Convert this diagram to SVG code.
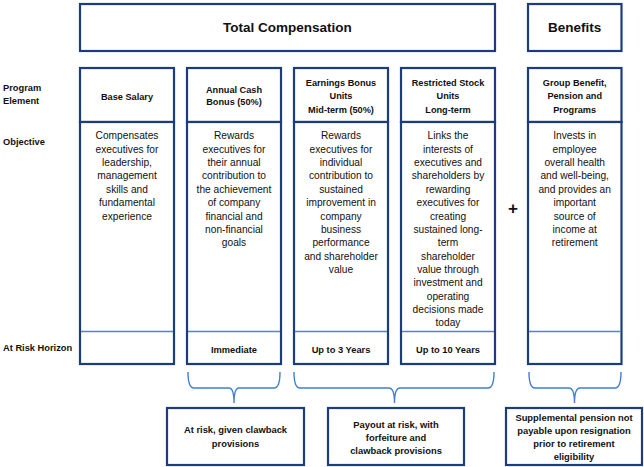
<svg xmlns="http://www.w3.org/2000/svg" width="644" height="467" viewBox="0 0 644 467">
<style>
.box{fill:#fff;stroke:#1d3c7d;stroke-width:2.2}
.div{stroke:#4a86d8;stroke-width:1.4;fill:none}
.brace{stroke:#3f7fd6;stroke-width:1.4;fill:none}
text{font-family:"Liberation Sans",Arial,sans-serif;fill:#111;text-anchor:middle}
.title{font-size:13.5px;font-weight:bold}
.hd{font-size:9.2px;font-weight:bold}
.body{font-size:10.2px}
.lbl{font-size:9.3px;font-weight:bold;text-anchor:start}
.hz{font-size:9.3px;font-weight:bold}
.bx{font-size:9.4px;font-weight:bold}
.plus{font-size:17px;font-weight:bold}
</style>
<g id="total-compensation">
<rect class="box" x="80" y="4" width="415" height="47"/>
<text class="title" x="287.5" y="31.5">Total Compensation</text>
</g>
<g id="benefits">
<rect class="box" x="528" y="4" width="93.5" height="47"/>
<text class="title" x="574.7" y="31.5">Benefits</text>
</g>
<g id="row-labels">
<text class="lbl" x="3" y="91">Program</text>
<text class="lbl" x="3" y="103.5">Element</text>
<text class="lbl" x="3" y="145.3">Objective</text>
<text class="lbl" x="3" y="351.3">At Risk Horizon</text>
</g>
<g id="base-salary">
<rect class="box" x="80" y="68" width="94" height="54"/>
<rect class="box" x="80" y="122" width="94" height="242"/>
<line class="div" x1="81" y1="331.5" x2="173" y2="331.5"/>
<text class="hd" x="127" y="100">Base Salary</text>
<text class="body" x="127" y="139.3">Compensates</text>
<text class="body" x="127" y="152.7">executives for</text>
<text class="body" x="127" y="166">leadership,</text>
<text class="body" x="127" y="179.4">management</text>
<text class="body" x="127" y="192.7">skills and</text>
<text class="body" x="127" y="206.1">fundamental</text>
<text class="body" x="127" y="219.5">experience</text>
</g>
<g id="annual-cash-bonus">
<rect class="box" x="187" y="68" width="94" height="54"/>
<rect class="box" x="187" y="122" width="94" height="242"/>
<line class="div" x1="188" y1="331.5" x2="280" y2="331.5"/>
<text class="hd" x="234" y="92.6">Annual Cash</text>
<text class="hd" x="234" y="105">Bonus (50%)</text>
<text class="body" x="234" y="139.3">Rewards</text>
<text class="body" x="234" y="152.7">executives for</text>
<text class="body" x="234" y="166">their annual</text>
<text class="body" x="234" y="179.4">contribution to</text>
<text class="body" x="234" y="192.7">the achievement</text>
<text class="body" x="234" y="206.1">of company</text>
<text class="body" x="234" y="219.5">financial and</text>
<text class="body" x="234" y="232.8">non-financial</text>
<text class="body" x="234" y="246.2">goals</text>
<text class="hz" x="234" y="352.6">Immediate</text>
</g>
<g id="earnings-bonus-units">
<rect class="box" x="294" y="68" width="94" height="54"/>
<rect class="box" x="294" y="122" width="94" height="242"/>
<line class="div" x1="295" y1="331.5" x2="387" y2="331.5"/>
<text class="hd" x="341" y="86">Earnings Bonus</text>
<text class="hd" x="341" y="99.3">Units</text>
<text class="hd" x="341" y="113">Mid-term (50%)</text>
<text class="body" x="341" y="139.3">Rewards</text>
<text class="body" x="341" y="152.7">executives for</text>
<text class="body" x="341" y="166">individual</text>
<text class="body" x="341" y="179.4">contribution to</text>
<text class="body" x="341" y="192.7">sustained</text>
<text class="body" x="341" y="206.1">improvement in</text>
<text class="body" x="341" y="219.5">company</text>
<text class="body" x="341" y="232.8">business</text>
<text class="body" x="341" y="246.2">performance</text>
<text class="body" x="341" y="259.5">and shareholder</text>
<text class="body" x="341" y="272.9">value</text>
<text class="hz" x="341" y="352.6">Up to 3 Years</text>
</g>
<g id="restricted-stock-units">
<rect class="box" x="401" y="68" width="94" height="54"/>
<rect class="box" x="401" y="122" width="94" height="242"/>
<line class="div" x1="402" y1="331.5" x2="494" y2="331.5"/>
<text class="hd" x="448" y="86">Restricted Stock</text>
<text class="hd" x="448" y="99.3">Units</text>
<text class="hd" x="448" y="113">Long-term</text>
<text class="body" x="448" y="139.3">Links the</text>
<text class="body" x="448" y="152.7">interests of</text>
<text class="body" x="448" y="166">executives and</text>
<text class="body" x="448" y="179.4">shareholders by</text>
<text class="body" x="448" y="192.7">rewarding</text>
<text class="body" x="448" y="206.1">executives for</text>
<text class="body" x="448" y="219.5">creating</text>
<text class="body" x="448" y="232.8">sustained long-</text>
<text class="body" x="448" y="246.2">term</text>
<text class="body" x="448" y="259.5">shareholder</text>
<text class="body" x="448" y="272.9">value through</text>
<text class="body" x="448" y="286.3">investment and</text>
<text class="body" x="448" y="299.6">operating</text>
<text class="body" x="448" y="313">decisions made</text>
<text class="body" x="448" y="326.3">today</text>
<text class="hz" x="448" y="352.6">Up to 10 Years</text>
</g>
<g id="plus">
<text class="plus" x="513" y="214">+</text>
</g>
<g id="group-benefit">
<rect class="box" x="528" y="68" width="93.5" height="54"/>
<rect class="box" x="528" y="122" width="93.5" height="242"/>
<line class="div" x1="529" y1="331.5" x2="620.5" y2="331.5"/>
<text class="hd" x="574.7" y="86">Group Benefit,</text>
<text class="hd" x="574.7" y="99.3">Pension and</text>
<text class="hd" x="574.7" y="113">Programs</text>
<text class="body" x="574.7" y="139.3">Invests in</text>
<text class="body" x="574.7" y="152.7">employee</text>
<text class="body" x="574.7" y="166">overall health</text>
<text class="body" x="574.7" y="179.4">and well-being,</text>
<text class="body" x="574.7" y="192.7">and provides an</text>
<text class="body" x="574.7" y="206.1">important</text>
<text class="body" x="574.7" y="219.5">source of</text>
<text class="body" x="574.7" y="232.8">income at</text>
<text class="body" x="574.7" y="246.2">retirement</text>
</g>
<g id="connectors">
<path class="brace" d="M188,372 Q188,388 194,388 L229,388 Q234,388 234,403 Q234,388 239,388 L274,388 Q280,388 280,372"/>
<path class="brace" d="M294,372 Q294,388 300,388 L389,388 Q394.5,388 394.5,403 Q394.5,388 400,388 L488,388 Q494,388 494,372"/>
<path class="brace" d="M529,372 Q529,388 535,388 L569,388 Q574.5,388 574.5,403 Q574.5,388 580,388 L615,388 Q621,388 621,372"/>
</g>
<g id="clawback-box">
<rect class="box" x="167" y="408" width="137" height="57"/>
<text class="bx" x="235.5" y="433.3">At risk, given clawback</text>
<text class="bx" x="235.5" y="447.3">provisions</text>
</g>
<g id="payout-box">
<rect class="box" x="328" y="408" width="136" height="57"/>
<text class="bx" x="396" y="427.6">Payout at risk, with</text>
<text class="bx" x="396" y="441">forfeiture and</text>
<text class="bx" x="396" y="454.3">clawback provisions</text>
</g>
<g id="pension-box">
<rect class="box" x="506" y="408" width="136" height="57"/>
<text class="bx" x="574" y="421">Supplemental pension not</text>
<text class="bx" x="574" y="434">payable upon resignation</text>
<text class="bx" x="574" y="447">prior to retirement</text>
<text class="bx" x="574" y="460">eligibility</text>
</g>
</svg>
